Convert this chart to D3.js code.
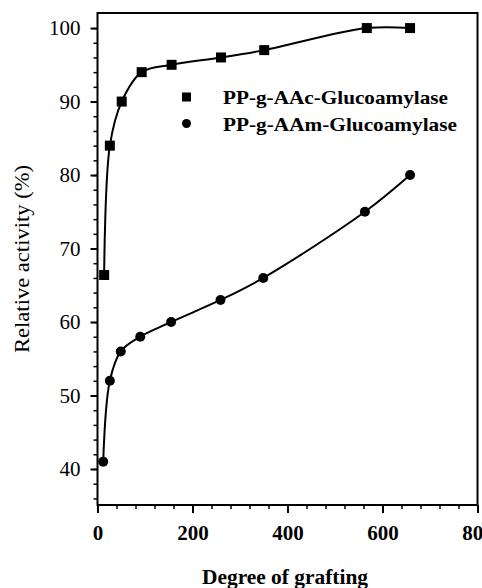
<!DOCTYPE html>
<html>
<head>
<meta charset="utf-8">
<script src="https://cdn.jsdelivr.net/npm/d3@7"></script>
<style>
  body { margin: 0; background: #fff; }
  svg text { font-family: 'Liberation Serif', 'DejaVu Serif', 'Times New Roman', Times, serif; fill: #000; }
</style>
</head>
<body>
<div id="chart"></div>
<script>
// Data
var aacX = [14, 26, 51, 93, 156, 260, 351, 567, 658];
var aacY = [66.4, 84, 90, 94, 95, 96, 97, 100, 100];
var aamX = [12, 26, 49, 90, 155, 259, 349, 563, 658];
var aamY = [41, 52, 56, 58, 60, 63, 66, 75, 80];
var seriesNames = ["PP-g-AAc-Glucoamylase", "PP-g-AAm-Glucoamylase"];
var xTicks = [0, 200, 400, 600, 800];
var yTicks = [40, 50, 60, 70, 80, 90, 100];

var svgWidth = 482, svgHeight = 588;
var margins = { top: 13, right: 5, bottom: 83, left: 97.5 };
var width = 477.5 - margins.left;
var height = 505 - margins.top;

var svg = d3.select("#chart")
            .append("svg")
            .attr("width", svgWidth)
            .attr("height", svgHeight);

var chartGroup = svg.append("g")
                    .attr("transform", `translate(${margins.left}, ${margins.top})`);

var xScale = d3.scaleLinear().domain([0, 800]).range([0, width]);
var yScale = d3.scaleLinear().domain([35.1, 102.05]).range([height, 0]);

// minor ticks
var xMinor = d3.range(0, 801, 40);
var yMinor = d3.range(36, 102, 2);

chartGroup.append("g")
    .attr("transform", `translate(0, ${height})`)
    .call(d3.axisBottom(xScale).tickValues(xMinor).tickSize(4).tickFormat(""))
    .call(g => g.select(".domain").remove())
    .selectAll("line").attr("stroke-width", 1.5);

chartGroup.append("g")
    .call(d3.axisLeft(yScale).tickValues(yMinor).tickSize(4).tickFormat(""))
    .call(g => g.select(".domain").remove())
    .selectAll("line").attr("stroke-width", 1.5);

// major ticks + labels
var xAxis = chartGroup.append("g")
    .attr("transform", `translate(0, ${height})`)
    .call(d3.axisBottom(xScale).tickValues(xTicks).tickSize(8).tickPadding(12));
xAxis.attr("font-family", null);
xAxis.select(".domain").remove();
xAxis.selectAll("line").attr("stroke-width", 2);
xAxis.selectAll("text")
    .style("font-size", "21px")
    .style("font-weight", "bold");

var yAxis = chartGroup.append("g")
    .call(d3.axisLeft(yScale).tickValues(yTicks).tickSize(7).tickPadding(10));
yAxis.attr("font-family", null);
yAxis.select(".domain").remove();
yAxis.selectAll("line").attr("stroke-width", 2);
yAxis.selectAll("text")
    .style("font-size", "21px");

// frame
chartGroup.append("rect")
    .attr("x", 0)
    .attr("y", 0)
    .attr("width", width)
    .attr("height", height)
    .attr("fill", "none")
    .attr("stroke", "#000")
    .attr("stroke-width", 2);

// curves
var line = d3.line()
    .x(d => xScale(d[0]))
    .y(d => yScale(d[1]))
    .curve(d3.curveCatmullRom.alpha(0.5));

var aacData = aacX.map((x, i) => [x, aacY[i]]);
var aamData = aamX.map((x, i) => [x, aamY[i]]);

chartGroup.append("path")
    .datum(aacData)
    .attr("d", line)
    .attr("fill", "none")
    .attr("stroke", "#000")
    .attr("stroke-width", 2);

chartGroup.append("path")
    .datum(aamData)
    .attr("d", line)
    .attr("fill", "none")
    .attr("stroke", "#000")
    .attr("stroke-width", 2);

var sq = 10;
chartGroup.selectAll(".sq")
    .data(aacData)
    .enter()
    .append("rect")
    .attr("class", "sq")
    .attr("x", d => xScale(d[0]) - sq / 2)
    .attr("y", d => yScale(d[1]) - sq / 2)
    .attr("width", sq)
    .attr("height", sq)
    .attr("fill", "#000");

chartGroup.selectAll(".dot")
    .data(aamData)
    .enter()
    .append("circle")
    .attr("class", "dot")
    .attr("cx", d => xScale(d[0]))
    .attr("cy", d => yScale(d[1]))
    .attr("r", 5)
    .attr("fill", "#000");

// legend
var legend = svg.append("g");
legend.append("rect")
    .attr("x", 182).attr("y", 92.5)
    .attr("width", 9).attr("height", 9)
    .attr("fill", "#000");
legend.append("circle")
    .attr("cx", 186.5).attr("cy", 123.5)
    .attr("r", 4.5)
    .attr("fill", "#000");
legend.selectAll(".ltext")
    .data(seriesNames)
    .enter()
    .append("text")
    .attr("class", "ltext")
    .attr("x", 223)
    .attr("y", (d, i) => 103.5 + i * 27)
    .attr("textLength", (d, i) => i === 0 ? 225 : 234)
    .attr("lengthAdjust", "spacingAndGlyphs")
    .style("font-size", "19px")
    .style("font-weight", "bold")
    .text(d => d);

// axis titles
svg.append("text")
    .attr("x", 202)
    .attr("y", 584)
    .attr("textLength", 166)
    .attr("lengthAdjust", "spacingAndGlyphs")
    .style("font-size", "20px")
    .style("font-weight", "bold")
    .text("Degree of grafting");

svg.append("text")
    .attr("transform", "translate(29, 353) rotate(-90)")
    .attr("textLength", 188)
    .attr("lengthAdjust", "spacingAndGlyphs")
    .style("font-size", "20px")
    .text("Relative activity (%)");
</script>
</body>
</html>
